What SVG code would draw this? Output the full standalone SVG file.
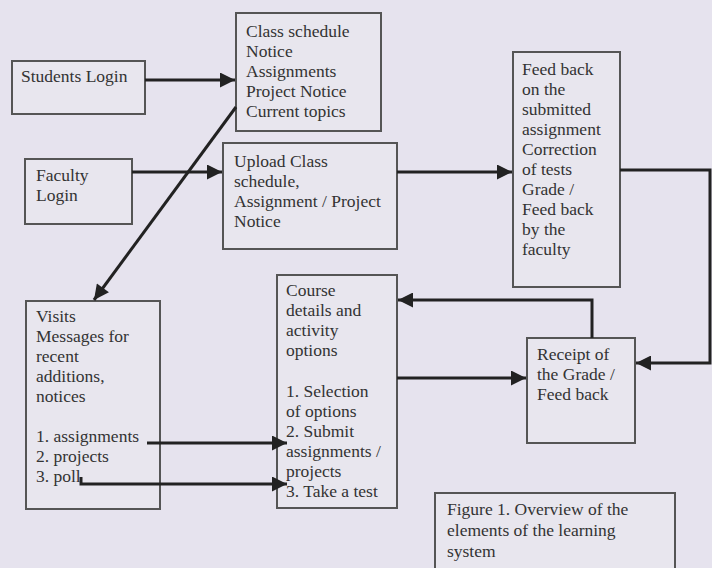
<svg xmlns="http://www.w3.org/2000/svg" width="712" height="568" viewBox="0 0 712 568">
<defs>
<style>
.box{fill:#e8e6ee;stroke:#555;stroke-width:2}
.t{font-family:"Liberation Serif","Times New Roman",serif;font-size:17.5px;fill:#333}
.c{fill:none;stroke:#222;stroke-width:3}
</style>
<marker id="ah" viewBox="0 0 10 10" refX="10" refY="5" markerWidth="5.5" markerHeight="5" markerUnits="strokeWidth" orient="auto">
<path d="M0,0 L10,5 L0,10 Z" fill="#222"/>
</marker>
</defs>
<rect width="712" height="568" fill="#e6e3ee"/>
<g id="student-login">
<rect class="box" x="12" y="61" width="133" height="53"/>
<text class="t" x="21" y="82">Students Login</text>
</g>
<g id="class-schedule">
<rect class="box" x="236" y="13" width="145" height="118"/>
<text class="t" x="246" y="37">Class schedule</text>
<text class="t" x="246" y="57">Notice</text>
<text class="t" x="246" y="77">Assignments</text>
<text class="t" x="246" y="97">Project Notice</text>
<text class="t" x="246" y="117">Current topics</text>
</g>
<g id="faculty-login">
<rect class="box" x="25" y="159" width="107" height="65"/>
<text class="t" x="36" y="181">Faculty</text>
<text class="t" x="36" y="201">Login</text>
</g>
<g id="upload">
<rect class="box" x="223" y="143" width="174" height="106"/>
<text class="t" x="234" y="167">Upload Class</text>
<text class="t" x="234" y="187">schedule,</text>
<text class="t" x="234" y="207">Assignment / Project</text>
<text class="t" x="234" y="227">Notice</text>
</g>
<g id="feedback">
<rect class="box" x="513" y="52" width="107" height="235"/>
<text class="t" x="522" y="75">Feed back</text>
<text class="t" x="522" y="95">on the</text>
<text class="t" x="522" y="115">submitted</text>
<text class="t" x="522" y="135">assignment</text>
<text class="t" x="522" y="155">Correction</text>
<text class="t" x="522" y="175">of tests</text>
<text class="t" x="522" y="195">Grade /</text>
<text class="t" x="522" y="215">Feed back</text>
<text class="t" x="522" y="235">by the</text>
<text class="t" x="522" y="255">faculty</text>
</g>
<g id="visits">
<rect class="box" x="26" y="301" width="134" height="208"/>
<text class="t" x="36" y="322">Visits</text>
<text class="t" x="36" y="342">Messages for</text>
<text class="t" x="36" y="362">recent</text>
<text class="t" x="36" y="382">additions,</text>
<text class="t" x="36" y="402">notices</text>
<text class="t" x="36" y="442">1. assignments</text>
<text class="t" x="36" y="462">2. projects</text>
<text class="t" x="36" y="482">3. poll</text>
</g>
<g id="course">
<rect class="box" x="277" y="275" width="120" height="233"/>
<text class="t" x="286" y="296">Course</text>
<text class="t" x="286" y="316">details and</text>
<text class="t" x="286" y="336">activity</text>
<text class="t" x="286" y="356">options</text>
<text class="t" x="286" y="397">1. Selection</text>
<text class="t" x="286" y="417">of options</text>
<text class="t" x="286" y="437">2. Submit</text>
<text class="t" x="286" y="457">assignments /</text>
<text class="t" x="286" y="477">projects</text>
<text class="t" x="286" y="497">3. Take a test</text>
</g>
<g id="receipt">
<rect class="box" x="527" y="338" width="108" height="105"/>
<text class="t" x="537" y="360">Receipt of</text>
<text class="t" x="537" y="380">the Grade /</text>
<text class="t" x="537" y="400">Feed back</text>
</g>
<g id="caption">
<rect class="box" x="435" y="493" width="240" height="90"/>
<text class="t" x="447" y="515">Figure 1. Overview of the</text>
<text class="t" x="447" y="536">elements of the learning</text>
<text class="t" x="447" y="557">system</text>
</g>
<g id="connectors">
<path class="c" d="M145 80 L235 80" marker-end="url(#ah)"/>
<path class="c" d="M132 172 L222 172" marker-end="url(#ah)"/>
<path class="c" d="M236 107 L94 300" marker-end="url(#ah)"/>
<path class="c" d="M397 172 L512 172" marker-end="url(#ah)"/>
<path class="c" d="M620 170 L710 170 L710 363 L636 363" marker-end="url(#ah)"/>
<path class="c" d="M592 338 L592 300 L398 300" marker-end="url(#ah)"/>
<path class="c" d="M397 378 L526 378" marker-end="url(#ah)"/>
<path class="c" d="M147 443 L287 443" marker-end="url(#ah)"/>
<path class="c" d="M81 477 L81 484 L287 484" marker-end="url(#ah)"/>
</g>
</svg>
